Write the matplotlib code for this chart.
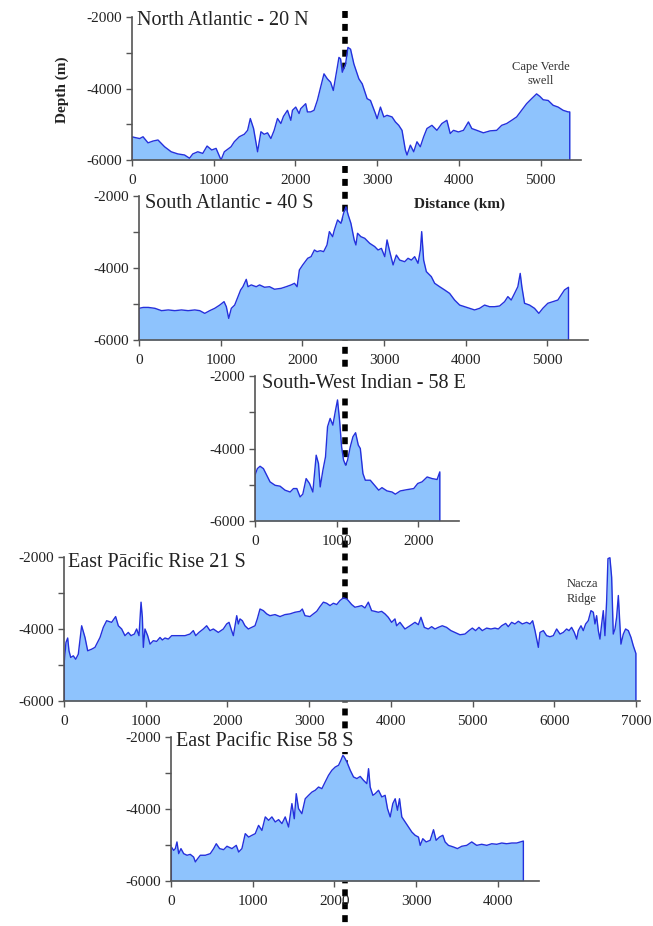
import matplotlib
matplotlib.use('Agg')
import matplotlib.pyplot as plt
from matplotlib.lines import Line2D

plt.rcParams['font.family'] = ['Liberation Serif', 'DejaVu Serif']
plt.rcParams['lines.scale_dashes'] = False
plt.rcParams['axes.unicode_minus'] = False

# profiles: distance (km) and depth (m)
na_km = [0, 33, 94, 135, 196, 257, 318, 399, 480, 561, 643, 704, 744, 805, 866, 919, 976, 1029, 1090, 1130,
         1212, 1252, 1313, 1374, 1415, 1448, 1488, 1537, 1578, 1618, 1659, 1700, 1740, 1781, 1822, 1854, 1903,
         1944, 1964, 2004, 2045, 2065, 2126, 2147, 2187, 2228, 2269, 2309, 2350, 2391, 2431, 2464, 2513, 2533,
         2553, 2574, 2614, 2643, 2675, 2716, 2777, 2818, 2878, 2919, 2980, 3000, 3041, 3082, 3122, 3183, 3224,
         3265, 3305, 3346, 3366, 3407, 3448, 3488, 3529, 3570, 3610, 3671, 3732, 3793, 3854, 3895, 3935, 3996,
         4057, 4118, 4159, 4220, 4301, 4383, 4464, 4525, 4586, 4647, 4708, 4769, 4830, 4891, 4952, 4992, 5033,
         5094, 5155, 5216, 5277, 5338, 5358]
na_depth = [-5350, -5370, -5400, -5350, -5520, -5470, -5440, -5630, -5770, -5830, -5860, -5950, -5830, -5770,
            -5815, -5610, -5720, -5675, -6000, -5770, -5630, -5490, -5350, -5280, -5170, -4840, -5120, -5770,
            -5210, -5280, -5240, -5400, -5170, -4840, -4980, -4780, -4610, -4890, -4610, -4520, -4700, -4565,
            -4425, -4655, -4655, -4610, -4330, -3960, -3590, -3730, -3825, -4055, -3405, -3130, -3175, -3545,
            -3315, -2850, -2900, -3315, -3730, -3870, -4285, -4335, -4705, -4845, -4520, -4795, -4750, -4795,
            -4935, -5030, -5170, -5720, -5860, -5585, -5770, -5490, -5630, -5350, -5120, -5030, -5170, -4980,
            -4890, -5260, -5170, -5215, -5170, -4935, -5120, -5170, -5240, -5185, -5170, -5030, -4980, -4890,
            -4795, -4610, -4425, -4285, -4150, -4220, -4315, -4335, -4470, -4520, -4610, -4655, -4655]

sa_km = [0, 53, 114, 195, 276, 358, 439, 520, 602, 683, 744, 805, 866, 927, 988, 1041, 1069, 1098, 1130, 1171,
         1212, 1244, 1272, 1313, 1334, 1374, 1435, 1476, 1537, 1598, 1659, 1740, 1801, 1862, 1903, 1935, 1963,
         2004, 2065, 2106, 2147, 2179, 2220, 2260, 2301, 2330, 2370, 2391, 2431, 2472, 2504, 2533, 2561, 2594,
         2634, 2655, 2675, 2716, 2763, 2824, 2885, 2926, 2967, 3008, 3036, 3069, 3110, 3150, 3191, 3252, 3293,
         3334, 3374, 3415, 3444, 3460, 3484, 3517, 3578, 3619, 3680, 3741, 3802, 3863, 3925, 3986, 4047, 4108,
         4169, 4230, 4291, 4352, 4414, 4475, 4515, 4556, 4597, 4637, 4666, 4686, 4719, 4780, 4841, 4894, 4943,
         5004, 5066, 5127, 5167, 5208, 5257]
sa_depth = [-5120, -5095, -5095, -5120, -5185, -5165, -5185, -5165, -5185, -5165, -5185, -5260, -5185, -5120,
            -5030, -4935, -5075, -5400, -5120, -5030, -4795, -4610, -4520, -4315, -4520, -4470, -4520, -4470,
            -4535, -4520, -4590, -4565, -4520, -4470, -4425, -4520, -4055, -3915, -3730, -3685, -3500, -3545,
            -3520, -3545, -3360, -2990, -3130, -2945, -2665, -2760, -2480, -2300, -2530, -2760, -3220, -3360,
            -3035, -3130, -3175, -3315, -3405, -3500, -3455, -3685, -3220, -3545, -3915, -3640, -3780, -3825,
            -3730, -3780, -3685, -3870, -3500, -2990, -3780, -4100, -4240, -4425, -4520, -4610, -4705, -4890,
            -5030, -5075, -5120, -5165, -5120, -5030, -5075, -5075, -5055, -4935, -4795, -4890, -4705, -4520,
            -4150, -4520, -4980, -5030, -5120, -5260, -5120, -4980, -4935, -4890, -4750, -4610, -4535]

swi_km = [0, 29, 62, 103, 143, 184, 246, 307, 368, 430, 471, 512, 552, 585, 626, 667, 708, 749, 777, 798, 831,
          863, 888, 920, 953, 986, 1010, 1035, 1060, 1084, 1109, 1133, 1166, 1199, 1231, 1264, 1289, 1321, 1350,
          1411, 1473, 1514, 1554, 1616, 1677, 1718, 1779, 1861, 1943, 1992, 2045, 2107, 2168, 2229, 2262]
swi_depth = [-4735, -4555, -4490, -4555, -4735, -4920, -5015, -5040, -5150, -5200, -5105, -5105, -5335, -5260,
             -4830, -4965, -5200, -4185, -4415, -5060, -4600, -4230, -3400, -3170, -3355, -2940, -2660, -3215,
             -3955, -4320, -4460, -4320, -3955, -3675, -3565, -3905, -4000, -4690, -4875, -4875, -5040, -5150,
             -5080, -5170, -5200, -5260, -5170, -5135, -5105, -4965, -4920, -4785, -4830, -4855, -4645]

ep21_km = [4, 24, 45, 61, 82, 114, 143, 175, 216, 257, 290, 339, 379, 441, 481, 522, 583, 632, 665, 706, 746,
           787, 820, 861, 889, 918, 943, 959, 971, 991, 1024, 1053, 1093, 1134, 1175, 1204, 1236, 1277, 1318,
           1359, 1420, 1481, 1542, 1583, 1612, 1652, 1705, 1746, 1787, 1828, 1889, 1950, 1991, 2020, 2052, 2073,
           2093, 2114, 2134, 2154, 2183, 2215, 2256, 2297, 2338, 2366, 2399, 2440, 2481, 2521, 2583, 2644, 2705,
           2766, 2827, 2889, 2917, 2950, 3011, 3052, 3093, 3134, 3175, 3215, 3256, 3297, 3338, 3378, 3419, 3460,
           3480, 3521, 3561, 3602, 3643, 3684, 3725, 3765, 3806, 3847, 3888, 3929, 3969, 4010, 4051, 4071, 4112,
           4173, 4235, 4296, 4337, 4369, 4410, 4459, 4500, 4541, 4581, 4630, 4683, 4736, 4785, 4847, 4908, 4957,
           4998, 5038, 5079, 5120, 5173, 5226, 5275, 5316, 5357, 5406, 5438, 5479, 5520, 5561, 5610, 5663, 5704,
           5736, 5765, 5806, 5826, 5867, 5907, 5948, 5989, 6030, 6071, 6111, 6152, 6181, 6213, 6246, 6275, 6295,
           6328, 6356, 6385, 6417, 6450, 6479, 6499, 6519, 6540, 6560, 6581, 6601, 6621, 6642, 6658, 6682, 6703,
           6723, 6744, 6764, 6785, 6801, 6817, 6846, 6874, 6907, 6940, 6968, 7000]
ep21_depth = [-4885, -4375, -4250, -4605, -4790, -4745, -4840, -4700, -3910, -4235, -4605, -4560, -4510, -4235,
              -3955, -3770, -3815, -3655, -3910, -4000, -4185, -4095, -4185, -4140, -4000, -4185, -3255, -3675,
              -4510, -4000, -4185, -4420, -4325, -4345, -4235, -4305, -4250, -4280, -4185, -4185, -4185, -4185,
              -4140, -4045, -4185, -4095, -4000, -3910, -4045, -4000, -4095, -4000, -3860, -3815, -4045, -4185,
              -3910, -3630, -3860, -3720, -3770, -3910, -4000, -3955, -3910, -3720, -3445, -3490, -3580, -3630,
              -3600, -3655, -3600, -3580, -3535, -3510, -3445, -3630, -3655, -3580, -3510, -3375, -3255, -3285,
              -3350, -3285, -3320, -3210, -3135, -3165, -3210, -3320, -3395, -3375, -3350, -3415, -3255, -3490,
              -3510, -3535, -3510, -3580, -3675, -3815, -3720, -3910, -3815, -4000, -3910, -3815, -3880, -3675,
              -3955, -4000, -3935, -4000, -3955, -3910, -3955, -4045, -4095, -4160, -4140, -4045, -3975, -4045,
              -3955, -4045, -3975, -4000, -3975, -4000, -3910, -3845, -3935, -3815, -3860, -3785, -3860, -3815,
              -3860, -3770, -4045, -4510, -4095, -4045, -4185, -4215, -4185, -4000, -4140, -4095, -4000, -4045,
              -3955, -4095, -4280, -4045, -3910, -4045, -3860, -3770, -3490, -3535, -3860, -3630, -4045, -4280,
              -3860, -3490, -4185, -3210, -2045, -2020, -2560, -4140, -4000, -3675, -3070, -3770, -4420, -4140,
              -4000, -4045, -4235, -4465, -4680]

ep58_km = [4, 33, 53, 73, 94, 122, 155, 196, 236, 277, 298, 326, 359, 420, 481, 522, 554, 595, 644, 685, 746,
           799, 828, 868, 909, 950, 991, 1031, 1072, 1113, 1154, 1195, 1235, 1276, 1317, 1358, 1398, 1439, 1480,
           1509, 1533, 1561, 1602, 1643, 1684, 1725, 1765, 1806, 1847, 1887, 1928, 1969, 2010, 2051, 2079, 2104,
           2120, 2153, 2194, 2234, 2275, 2316, 2357, 2397, 2418, 2438, 2471, 2499, 2540, 2580, 2621, 2650, 2683,
           2715, 2744, 2772, 2797, 2825, 2866, 2907, 2948, 2988, 3029, 3050, 3082, 3123, 3172, 3213, 3245, 3286,
           3327, 3355, 3396, 3457, 3506, 3559, 3620, 3681, 3742, 3803, 3865, 3926, 3987, 4048, 4109, 4171, 4232,
           4313]
ep58_depth = [-5055, -5150, -5100, -4915, -5240, -5100, -5240, -5285, -5260, -5335, -5470, -5380, -5285, -5285,
              -5240, -5100, -4965, -5100, -5130, -5035, -5100, -5010, -5195, -5100, -4685, -4780, -4730, -4685,
              -4455, -4595, -4220, -4315, -4220, -4360, -4295, -4405, -4220, -4500, -3850, -4270, -3575, -3990,
              -4130, -3715, -3620, -3530, -3480, -3390, -3435, -3250, -3065, -2925, -2835, -2785, -2650, -2510,
              -2555, -2695, -2925, -3110, -3155, -3095, -3205, -3295, -2880, -3390, -3620, -3575, -3480, -3665,
              -3620, -3990, -4220, -3850, -3715, -4035, -3715, -4220, -4360, -4500, -4640, -4730, -4780, -5010,
              -4825, -4915, -4870, -4575, -4870, -4780, -4730, -4915, -5010, -5055, -5100, -5035, -5010, -4915,
              -5010, -4980, -5010, -4965, -4980, -4945, -4965, -4945, -4945, -4890]

titles = ['North Atlantic - 20 N', 'South Atlantic - 40 S', 'South-West Indian - 58 E',
          'East P\u0101cific Rise 21 S', 'East Pacific Rise 58 S']
x_max = [5500, 5500, 2500, 7050, 4500]
x_ticks = [[0, 1000, 2000, 3000, 4000, 5000], [0, 1000, 2000, 3000, 4000, 5000], [0, 1000, 2000],
           [0, 1000, 2000, 3000, 4000, 5000, 6000, 7000], [0, 1000, 2000, 3000, 4000]]
profiles = [(na_km, na_depth), (sa_km, sa_depth), (swi_km, swi_depth), (ep21_km, ep21_depth),
            (ep58_km, ep58_depth)]

W, H = 653, 926
# panel placement in pixels: left spine x, top (-2000) y, bottom (-6000) y
boxes = [(132, 17, 160), (139, 196, 340), (255, 376, 521), (64, 557, 701), (171, 737, 881)]
title_pos = [(0.011, 0.975), (0.013, 0.95), (0.034, 0.95), (0.007, 0.96), (0.014, 0.97)]
px_per_km = 0.0817

fill_col = '#8ec3fd'
line_col = '#2430dc'
spine_col = '#555555'

fig = plt.figure(figsize=(W / 100, H / 100), dpi=100)

for i in range(5):
    left, top, bot = boxes[i]
    width = x_max[i] * px_per_km
    ax = fig.add_axes([left / W, (H - bot) / H, width / W, (bot - top) / H])
    ax.patch.set_visible(False)
    km, depth = profiles[i]
    xs = [km[0]] + km + [km[-1]]
    ys = [-6000] + depth + [-6000]
    ax.fill_between(km, depth, -6000, color=fill_col, lw=0)
    ax.plot(xs, ys, color=line_col, lw=1.0)
    ax.set_xlim(0, x_max[i])
    ax.set_ylim(-6000, -2000)
    ax.set_xticks(x_ticks[i])
    ax.set_yticks([-2000, -4000, -6000])
    ax.set_yticks([-3000, -5000], minor=True)
    ax.tick_params(which='both', direction='out', length=4, width=1, color=spine_col,
                   labelsize=11, pad=3, labelcolor='#222222')
    ax.tick_params(axis='x', pad=6)
    for s in ['top', 'right']:
        ax.spines[s].set_visible(False)
    for s in ['left', 'bottom']:
        ax.spines[s].set_color(spine_col)
        ax.spines[s].set_linewidth(1.2)
    ax.text(title_pos[i][0], title_pos[i][1], titles[i], transform=ax.transAxes,
            fontsize=14.5, va='center', ha='left', color='#222222',
            bbox=dict(facecolor='white', edgecolor='none', pad=1))
    if i == 0:
        ax.text(5000, -3950, 'Cape Verde\nswell', fontsize=9, ha='center', va='bottom',
                color='#333333', linespacing=1.2)
    if i == 3:
        ax.text(6150, -3330, 'Nacza\nRidge', fontsize=9, ha='left', va='bottom',
                color='#333333', linespacing=1.3)

fig.text(62 / W, 1 - 90 / H, 'Depth (m)', rotation=90, ha='center', va='center',
         fontsize=11, fontweight='bold', color='#222222')
fig.text(460 / W, 1 - 204 / H, 'Distance (km)', ha='center', va='center',
         fontsize=11, fontweight='bold', color='#222222')

# ridge axis marker running through every panel
ridge = Line2D([345 / W, 345 / W], [1 - 11 / H, 0], transform=fig.transFigure,
               color='black', lw=4, linestyle=(0, (5, 4.3)), zorder=-1)
fig.lines.append(ridge)

fig.savefig('out.png', dpi=100)
